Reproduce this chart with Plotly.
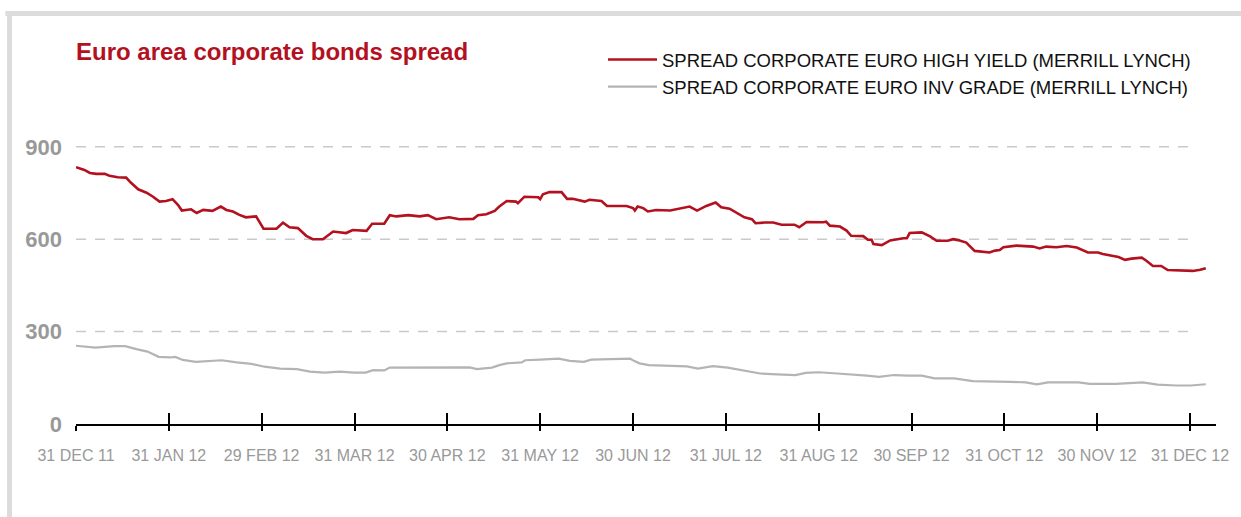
import plotly.graph_objects as go

# ---- data (x = months since 31 Dec 2011, y = spread in bp) ----
month_ticks = list(range(13))
month_labels = ["31 DEC 11", "31 JAN 12", "29 FEB 12", "31 MAR 12", "30 APR 12",
                "31 MAY 12", "30 JUN 12", "31 JUL 12", "31 AUG 12", "30 SEP 12",
                "31 OCT 12", "30 NOV 12", "31 DEC 12"]
y_ticks = [0, 300, 600, 900]
grid_values = [300, 600, 900]

hy_month = [0.0, 0.09, 0.15, 0.22, 0.31, 0.36, 0.45, 0.54, 0.59, 0.67, 0.76, 0.83, 0.90, 0.97,
            1.04, 1.10, 1.14, 1.24, 1.30, 1.37, 1.47, 1.56, 1.62, 1.69, 1.76, 1.83, 1.94,
            2.02, 2.16, 2.23, 2.30, 2.39, 2.48, 2.55, 2.66, 2.77, 2.91, 2.98,
            3.13, 3.19, 3.32, 3.38, 3.45, 3.58, 3.70, 3.79, 3.88,
            4.02, 4.13, 4.28, 4.33, 4.42, 4.51, 4.56, 4.64, 4.74, 4.76, 4.83, 4.98,
            5.00, 5.03, 5.10, 5.23, 5.29, 5.35, 5.48, 5.53, 5.66, 5.72, 5.93,
            6.00, 6.02, 6.05, 6.11, 6.16, 6.25, 6.40, 6.51, 6.61, 6.69, 6.79, 6.89, 6.95,
            7.04, 7.13, 7.20, 7.28, 7.32, 7.42, 7.51, 7.60, 7.74, 7.79, 7.87,
            8.05, 8.08, 8.12, 8.23, 8.30, 8.35, 8.48, 8.53, 8.57, 8.59, 8.68, 8.77, 8.91, 8.95, 8.98,
            9.11, 9.20, 9.27, 9.39, 9.45, 9.50, 9.59, 9.68, 9.84, 9.90, 9.95, 9.99,
            10.13, 10.31, 10.38, 10.45, 10.56, 10.67, 10.78, 10.90,
            11.01, 11.06, 11.14, 11.23, 11.30, 11.37, 11.48, 11.53, 11.60, 11.69, 11.76, 11.89,
            12.03, 12.11, 12.17]
hy_value = [834, 825, 815, 812, 812, 806, 801, 800, 784, 762, 751, 738, 722, 724,
            730, 711, 693, 697, 685, 695, 692, 706, 695, 690, 679, 671, 674,
            634, 634, 654, 639, 636, 611, 600, 600, 625, 620, 630,
            627, 650, 650, 678, 674, 678, 674, 678, 665,
            671, 665, 666, 678, 681, 692, 706, 724, 722, 717, 738, 736,
            730, 746, 753, 753, 731, 731, 722, 728, 724, 708, 708,
            701, 693, 706, 701, 690, 695, 693, 701, 706, 693, 708, 719, 704,
            699, 682, 671, 665, 652, 654, 654, 647, 647, 639, 656,
            655, 657, 644, 641, 628, 611, 610, 598, 598, 584, 581, 596, 603, 603, 620,
            622, 609, 595, 595, 600, 597, 589, 562, 557, 563, 565, 574,
            579, 576, 570, 576, 574, 578, 573, 557,
            557, 552, 547, 542, 533, 537, 540, 530, 513, 513, 500, 499,
            497, 501, 506]

ig_month = [0.0, 0.21, 0.41, 0.53, 0.65, 0.77, 0.89, 1.01, 1.07, 1.15, 1.29, 1.41, 1.57, 1.73, 1.89,
            2.03, 2.20, 2.38, 2.52, 2.68, 2.84, 3.00, 3.12, 3.20, 3.32, 3.38, 3.56, 3.64, 3.80,
            4.04, 4.24, 4.32, 4.48, 4.56, 4.64, 4.80, 4.84, 5.00, 5.20, 5.32, 5.47, 5.55, 5.71, 5.97,
            6.01, 6.07, 6.17, 6.33, 6.58, 6.70, 6.86, 7.02, 7.19, 7.37, 7.55, 7.75, 7.86,
            8.00, 8.20, 8.36, 8.52, 8.65, 8.81, 8.97, 9.11, 9.25, 9.46, 9.66, 9.86,
            10.07, 10.23, 10.35, 10.47, 10.80, 10.92, 11.20, 11.49, 11.65, 11.85, 12.01, 12.17]
ig_value = [254, 248, 253, 253, 243, 235, 218, 216, 218, 208, 202, 204, 207, 200, 195,
            186, 180, 178, 170, 167, 170, 167, 167, 175, 174, 183, 183, 185, 184,
            185, 184, 178, 183, 191, 197, 200, 207, 209, 212, 205, 202, 209, 211, 212,
            205, 197, 191, 189, 187, 180, 188, 183, 174, 164, 161, 159, 166,
            168, 164, 161, 157, 153, 159, 157, 157, 148, 148, 139, 139,
            137, 135, 129, 135, 135, 130, 130, 135, 128, 125, 125, 129]

series_names = ["SPREAD CORPORATE EURO HIGH YIELD (MERRILL LYNCH)",
                "SPREAD CORPORATE EURO INV GRADE (MERRILL LYNCH)"]

RED = "#b3111f"
GREY = "#b4b4b4"
LABEL_GREY = "#999999"

fig = go.Figure()
fig.add_trace(go.Scatter(x=hy_month, y=hy_value, mode="lines", name=series_names[0],
                         line=dict(color=RED, width=2.6)))
# second series on an overlaid copy of the x axis (which draws the upward half of the ticks)
fig.add_trace(go.Scatter(x=ig_month, y=ig_value, mode="lines", name=series_names[1],
                         xaxis="x2", yaxis="y",
                         line=dict(color=GREY, width=2.2)))

shapes = []
for g in grid_values:
    shapes.append(dict(type="line", xref="x", yref="y", x0=month_ticks[0], x1=month_ticks[-1],
                       y0=g, y1=g, layer="below",
                       line=dict(color="#c9c9c9", width=1.5, dash="10px,9px")))
# outer frame (top and left)
shapes.append(dict(type="line", xref="paper", yref="paper", x0=-0.062, x1=1.1,
                   y0=(424 - 13.5) / 308, y1=(424 - 13.5) / 308,
                   line=dict(color="#dcdcdc", width=5)))
shapes.append(dict(type="line", xref="paper", yref="paper", x0=(9.5 - 76) / 1140, x1=(9.5 - 76) / 1140,
                   y0=(424 - 11) / 308, y1=-0.4,
                   line=dict(color="#dcdcdc", width=5)))

fig.update_layout(
    width=1241, height=517,
    margin=dict(l=76, r=25, t=116, b=93, autoexpand=False),
    paper_bgcolor="white", plot_bgcolor="white",
    font=dict(family="Liberation Sans, Arial, sans-serif"),
    title=dict(text="<b>Euro area corporate bonds spread</b>",
               x=76 / 1241, xanchor="left", y=1 - 52 / 517, yanchor="middle",
               font=dict(size=24, color=RED, family="Liberation Sans, Arial, sans-serif")),
    showlegend=True,
    legend=dict(xref="container", yref="container", x=603 / 1241, xanchor="left",
                y=1 - 41 / 517, yanchor="top", bgcolor="rgba(0,0,0,0)",
                font=dict(size=18.5, color="#111111"), itemwidth=49, tracegroupgap=0),
    xaxis=dict(range=[0, 12.28], tickmode="array", tickvals=month_ticks, ticktext=month_labels,
               ticks="outside", ticklen=5, tickwidth=2, tickcolor="black",
               showline=True, linecolor="black", linewidth=2, showgrid=False, zeroline=False,
               tickangle=0, automargin=False, ticklabelstandoff=11,
               tickfont=dict(size=16, color=LABEL_GREY,
                             family="Liberation Sans Narrow, Arial Narrow, Liberation Sans, sans-serif"),
               fixedrange=True),
    xaxis2=dict(overlaying="x", matches="x", anchor="y", side="bottom",
                range=[0, 12.28], tickmode="array", tickvals=month_ticks,
                ticks="inside", ticklen=11, tickwidth=2, tickcolor="black",
                showticklabels=False, showline=False, showgrid=False, zeroline=False),
    yaxis=dict(range=[0, 1000], tickmode="array", tickvals=y_ticks,
               ticktext=[str(v) for v in y_ticks], automargin=False,
               showgrid=False, zeroline=False, showline=False, ticks="",
               ticklabelstandoff=13,
               tickfont=dict(size=22, color=LABEL_GREY, family="Liberation Sans, Arial, sans-serif",
                             weight="bold")),
    shapes=shapes,
)

fig.write_html("out.html")
